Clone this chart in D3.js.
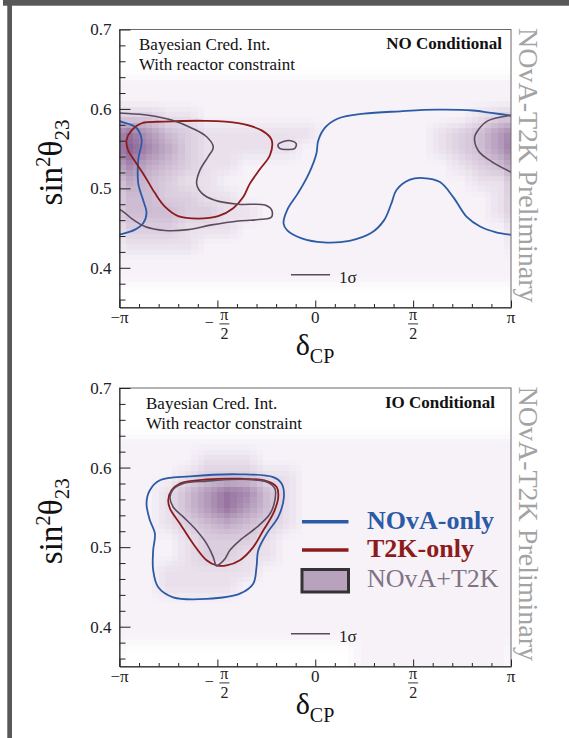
<!DOCTYPE html>
<html><head><meta charset="utf-8">
<script src="https://cdn.jsdelivr.net/npm/d3@7"></script>
<style>html,body{margin:0;padding:0;background:#fff;} svg{display:block}</style>
</head><body>
<svg id="chart" width="569" height="738"></svg>
<script>
// ---------------- DATA ----------------
// delta_CP stored in units of pi; sin^2(theta23) as is
const xTickValues = [-1, -0.5, 0, 0.5, 1];
const xTickLabels = ["−π", "−π/2", "0", "π/2", "π"];
const yTickValues = [0.4, 0.5, 0.6, 0.7];
const panelTitles = ["NO Conditional", "IO Conditional"];
const infoLines = ["Bayesian Cred. Int.", "With reactor constraint"];
const sigmaLabel = "1σ";
const legendLabels = ["NOvA-only", "T2K-only", "NOvA+T2K"];
const sideLabel = "NOvA-T2K Preliminary";

// density grids (NOvA+T2K posterior), rows centred at sin2 = 0.65 down to 0.37 (step 0.02),
// columns centred at delta/pi = -0.95 .. 0.95 (step 0.1); values 0 (none) .. 9 (max)
const densityNO = [
  "00000000000000000000",
  "11111111111111111111",
  "11111111111111111111",
  "33221111111111111123",
  "86432222221111112346",
  "97532222211111112346",
  "75432211111111111234",
  "54322111111111111122",
  "44332211111111111112",
  "44433221111111111112",
  "33322211111111111111",
  "22221111111111111111",
  "11111111111111111111",
  "11111111111111111111",
  "00000000000000000000"
];
const densityIO = [
  "00000000000000000000",
  "11111111111111111111",
  "11112221111111111111",
  "11123332211111111111",
  "11246874211111111111",
  "11246864211111111111",
  "11234543211111111111",
  "11123332111111111111",
  "11123322111111111111",
  "11222221111111111111",
  "11222211111111111111",
  "11111111111111111111",
  "11111111111111111111",
  "11111111111111111111",
  "00000000000011111111"
];

// NO conditional contours
const noNovaMain = [[1.02,0.591],[0.9,0.595],[0.806,0.598],[0.62,0.599],[0.434,0.597],[0.248,0.594],[0.117,0.588],[0.052,0.577],[0.015,0.56],[0.006,0.544],[-0.032,0.519],[-0.088,0.494],[-0.143,0.473],[-0.162,0.456],[-0.143,0.447],[-0.069,0.437],[0.043,0.432],[0.175,0.434],[0.287,0.444],[0.352,0.46],[0.389,0.481],[0.415,0.498],[0.484,0.511],[0.552,0.513],[0.637,0.508],[0.705,0.489],[0.774,0.464],[0.842,0.452],[0.92,0.445],[1.02,0.441]];
const noNovaWrap = [[-1.02,0.586],[-0.98,0.583],[-0.913,0.576],[-0.887,0.561],[-0.904,0.536],[-0.904,0.506],[-0.879,0.485],[-0.862,0.469],[-0.879,0.456],[-0.921,0.448],[-0.98,0.443],[-1.02,0.441]];
const noT2K = [[-0.964,0.561],[-0.938,0.573],[-0.887,0.582],[-0.768,0.584],[-0.564,0.585],[-0.393,0.582],[-0.274,0.573],[-0.223,0.561],[-0.231,0.542],[-0.283,0.524],[-0.334,0.506],[-0.368,0.489],[-0.419,0.475],[-0.496,0.465],[-0.598,0.462],[-0.700,0.465],[-0.768,0.477],[-0.819,0.494],[-0.870,0.515],[-0.921,0.534],[-0.956,0.548]];
const noComboMain = [[-1.02,0.595],[-0.98,0.5945],[-0.853,0.592],[-0.734,0.586],[-0.632,0.576],[-0.555,0.565],[-0.521,0.552],[-0.547,0.540],[-0.589,0.523],[-0.606,0.506],[-0.580,0.494],[-0.513,0.485],[-0.393,0.480],[-0.257,0.479],[-0.223,0.473],[-0.223,0.464],[-0.274,0.461],[-0.393,0.459],[-0.529,0.454],[-0.649,0.448],[-0.768,0.447],[-0.870,0.452],[-0.938,0.462],[-0.98,0.4705],[-1.02,0.476]];
const noComboIsland = [[-0.190,0.555],[-0.162,0.559],[-0.125,0.560],[-0.097,0.556],[-0.106,0.550],[-0.143,0.549],[-0.180,0.550]];
const noComboWrap = [[1.02,0.5925],[0.881,0.585],[0.834,0.574],[0.814,0.564],[0.834,0.547],[0.899,0.534],[1.02,0.518]];

// IO conditional contours
const ioNova = [[-0.862,0.555],[-0.845,0.5715],[-0.794,0.584],[-0.640,0.589],[-0.385,0.5915],[-0.215,0.588],[-0.172,0.580],[-0.160,0.563],[-0.189,0.538],[-0.248,0.517],[-0.291,0.496],[-0.300,0.475],[-0.317,0.454],[-0.385,0.4415],[-0.555,0.435],[-0.726,0.437],[-0.802,0.4495],[-0.828,0.471],[-0.828,0.496],[-0.819,0.517],[-0.845,0.534]];
const ioT2K = [[-0.751,0.559],[-0.734,0.5715],[-0.691,0.580],[-0.555,0.585],[-0.385,0.586],[-0.248,0.583],[-0.197,0.5755],[-0.189,0.563],[-0.215,0.542],[-0.266,0.521],[-0.317,0.500],[-0.385,0.4835],[-0.453,0.477],[-0.504,0.477],[-0.555,0.4835],[-0.623,0.504],[-0.691,0.5295],[-0.742,0.5485]];
const ioCombo = [[-0.742,0.563],[-0.726,0.5725],[-0.674,0.580],[-0.555,0.583],[-0.385,0.585],[-0.248,0.582],[-0.206,0.5735],[-0.206,0.559],[-0.231,0.542],[-0.299,0.525],[-0.385,0.5085],[-0.436,0.496],[-0.461,0.4855],[-0.487,0.479],[-0.506,0.4765],[-0.512,0.480],[-0.521,0.4875],[-0.555,0.5045],[-0.606,0.521],[-0.674,0.538],[-0.726,0.5505]];

// ---------------- DRAWING ----------------
const FONT = "'Liberation Serif','Times New Roman',Times,serif";
const BLUE = "#2b5ba6", RED = "#8e1b1b", COMBO = "#5c4b5e";
const svg = d3.select("#chart");
const X0 = 119.5, X1 = 511;

// outer page border
svg.append("rect").attr("x", 3).attr("y", 0).attr("width", 566).attr("height", 5.7).attr("fill", "#585858");
svg.append("rect").attr("x", 7.3).attr("y", 0).attr("width", 4.7).attr("height", 738).attr("fill", "#585858");

const defs = svg.append("defs");
const dens = d3.scaleLinear().domain([0, 1, 9]).range(["#ffffff", "#f6f2f8", "#8a6394"]).interpolate(d3.interpolateRgb).clamp(true);

// bilinear sampling of a density grid (periodic in delta)
function sample(grid, d, s) {
  const nr = grid.length, nc = grid[0].length;
  const fc = (d + 0.95) / 0.1;
  let fr = (0.65 - s) / 0.02;
  fr = Math.max(0, Math.min(nr - 1, fr));
  const c0 = Math.floor(fc), t = fc - c0;
  const r0 = Math.min(nr - 2, Math.floor(fr)), u = fr - r0;
  const g = (r, c) => +grid[r][((c % nc) + nc) % nc];
  return (1 - u) * ((1 - t) * g(r0, c0) + t * g(r0, c0 + 1)) + u * ((1 - t) * g(r0 + 1, c0) + t * g(r0 + 1, c0 + 1));
}

const panels = [
  { y0: 29.5, y1: 307.5, density: densityNO, title: panelTitles[0], infoX: 139, titleX: 502,
    contours: [
      { pts: noNovaMain, color: BLUE, closed: false },
      { pts: noNovaWrap, color: BLUE, closed: false },
      { pts: noT2K, color: RED, closed: true },
      { pts: noComboMain, color: COMBO, closed: false },
      { pts: noComboIsland, color: COMBO, closed: true },
      { pts: noComboWrap, color: COMBO, closed: false }
    ], legend: false },
  { y0: 388, y1: 666.5, density: densityIO, title: panelTitles[1], infoX: 146, titleX: 495,
    contours: [
      { pts: ioNova, color: BLUE, closed: true },
      { pts: ioT2K, color: RED, closed: true },
      { pts: ioCombo, color: COMBO, closed: true }
    ], legend: true }
];

panels.forEach((p, pi) => {
  const x = d3.scaleLinear().domain([-1, 1]).range([X0, X1]);
  const y = d3.scaleLinear().domain([0.35, 0.7]).range([p.y1, p.y0]);
  const g = svg.append("g");

  const clipId = "clip" + pi;
  defs.append("clipPath").attr("id", clipId).append("rect")
    .attr("x", X0).attr("y", p.y0).attr("width", X1 - X0).attr("height", p.y1 - p.y0);

  // density map rendered on a fine raster (bilinear between grid centres)
  const cells = [];
  const nx = 60, dd = 2 / nx, ds = 0.02 / 3;
  for (let i = 0; i < nx; i++) {
    for (let j = 0; j < 48; j++) {
      const s0 = 0.35 + j * ds;
      const d0 = -1 + i * dd;
      const v = sample(p.density, d0 + dd / 2, s0 + ds / 2);
      if (v > 0.08) cells.push({ d0, d1: d0 + dd, s0, s1: s0 + ds, v });
    }
  }
  const hm = g.append("g").attr("clip-path", `url(#${clipId})`);
  hm.selectAll("rect").data(cells).join("rect")
    .attr("x", d => x(d.d0)).attr("width", d => x(d.d1) - x(d.d0) + 0.5)
    .attr("y", d => y(d.s1)).attr("height", d => y(d.s0) - y(d.s1) + 0.5)
    .attr("fill", d => dens(d.v)).attr("shape-rendering", "crispEdges");

  // contours
  const lineOpen = d3.line().x(d => x(d[0])).y(d => y(d[1])).curve(d3.curveCatmullRom.alpha(0.5));
  const lineClosed = d3.line().x(d => x(d[0])).y(d => y(d[1])).curve(d3.curveCatmullRomClosed.alpha(0.5));
  const cg = g.append("g").attr("clip-path", `url(#${clipId})`);
  cg.selectAll("path").data(p.contours).join("path")
    .attr("d", d => (d.closed ? lineClosed : lineOpen)(d.pts))
    .attr("fill", "none").attr("stroke", d => d.color)
    .attr("stroke-width", d => d.color === COMBO ? 1.6 : 1.8);

  // frame
  g.append("rect").attr("x", X0).attr("y", p.y0).attr("width", X1 - X0).attr("height", p.y1 - p.y0)
    .attr("fill", "none").attr("stroke", "#6a6a6a").attr("stroke-width", 1);

  // y axis
  const yMinor = d3.range(0.36, 0.7, 0.02).filter(v => !yTickValues.some(t => Math.abs(t - v) < 1e-6));
  const ya = g.append("g").attr("transform", `translate(${X0},0)`)
    .call(d3.axisLeft(y).tickValues(yTickValues).tickSize(-11).tickSizeOuter(0).tickPadding(8).tickFormat(d3.format(".1f")));
  ya.attr("font-family", FONT).attr("font-size", 17).attr("color", "#222");
  const ym = g.append("g").attr("transform", `translate(${X0},0)`)
    .call(d3.axisLeft(y).tickValues(yMinor).tickSize(-6).tickSizeOuter(0).tickFormat(""));
  ym.attr("color", "#222"); ym.select(".domain").remove();

  // x axis
  const xMinor = d3.range(-0.9, 1, 0.1).filter(v => !xTickValues.some(t => Math.abs(t - v) < 1e-6));
  const xa = g.append("g").attr("transform", `translate(0,${p.y1})`)
    .call(d3.axisBottom(x).tickValues(xTickValues).tickSize(-7).tickSizeOuter(0).tickFormat(""));
  xa.attr("color", "#222");
  const xm = g.append("g").attr("transform", `translate(0,${p.y1})`)
    .call(d3.axisBottom(x).tickValues(xMinor).tickSize(-3.5).tickSizeOuter(0).tickFormat(""));
  xm.attr("color", "#222"); xm.select(".domain").remove();

  // x tick labels (with fractions)
  xTickValues.forEach((v, i) => {
    const lab = xTickLabels[i];
    const lg = g.append("g").attr("transform", `translate(${x(v)},${p.y1})`)
      .attr("font-family", FONT).attr("font-size", 16).attr("fill", "#222");
    if (lab.includes("/")) {
      let body = lab, dx = 0;
      if (lab.startsWith("−")) {
        body = lab.slice(1); dx = 7;
        lg.append("text").attr("x", -8).attr("y", 20).attr("text-anchor", "middle").text("−");
      }
      const [num, den] = body.split("/");
      lg.append("text").attr("x", dx).attr("y", 12.8).attr("text-anchor", "middle").text(num);
      lg.append("line").attr("x1", dx - 5).attr("x2", dx + 5).attr("y1", 16.4).attr("y2", 16.4)
        .attr("stroke", "#222").attr("stroke-width", 0.9);
      lg.append("text").attr("x", dx).attr("y", 31).attr("text-anchor", "middle").text(den);
    } else {
      lg.append("text").attr("x", 0).attr("y", 15.5).attr("text-anchor", "middle").attr("font-size", 17).text(lab);
    }
  });

  // axis titles
  const xt = g.append("text").attr("x", 315).attr("y", p.y1 + 47.5).attr("text-anchor", "middle")
    .attr("font-family", FONT).attr("font-size", 30).attr("fill", "#111");
  xt.append("tspan").text("δ");
  xt.append("tspan").attr("dy", 8).attr("font-size", 20).text("CP");

  const yc = (p.y0 + p.y1) / 2 - 6;
  const yt = g.append("text").attr("transform", `translate(62,${yc}) rotate(-90)`).attr("text-anchor", "middle")
    .attr("font-family", FONT).attr("font-size", 33).attr("fill", "#111");
  yt.append("tspan").text("sin");
  yt.append("tspan").attr("dy", -12).attr("font-size", 21).text("2");
  yt.append("tspan").attr("dy", 12).text("θ");
  yt.append("tspan").attr("dy", 7).attr("font-size", 21).text("23");

  // info texts
  infoLines.forEach((t, i) => {
    g.append("text").attr("x", p.infoX).attr("y", p.y0 + 20.5 + 20 * i)
      .attr("font-family", FONT).attr("font-size", 17).attr("fill", "#111").text(t);
  });
  g.append("text").attr("x", p.titleX).attr("y", p.y0 + 19.5).attr("text-anchor", "end")
    .attr("font-family", FONT).attr("font-size", 17).attr("font-weight", "bold").attr("fill", "#111").text(p.title);

  // 1 sigma key
  g.append("line").attr("x1", 291).attr("x2", 330).attr("y1", p.y1 - 32.7).attr("y2", p.y1 - 32.7)
    .attr("stroke", COMBO).attr("stroke-width", 1.5);
  g.append("text").attr("x", 339).attr("y", p.y1 - 24.5)
    .attr("font-family", FONT).attr("font-size", 17).attr("fill", "#222").text(sigmaLabel);

  // side label
  g.append("text").attr("transform", `translate(519,${p.y0 - 1.5}) rotate(90)`)
    .attr("font-family", FONT).attr("font-size", 28).attr("fill", "#a3a3a3").text(sideLabel);

  // legend
  if (p.legend) {
    const lx = 302, lw = 46.5, tx = 367;
    g.append("line").attr("x1", lx).attr("x2", lx + lw).attr("y1", 521.7).attr("y2", 521.7)
      .attr("stroke", BLUE).attr("stroke-width", 3.6);
    g.append("text").attr("x", tx).attr("y", 528.5).attr("font-family", FONT).attr("font-size", 26)
      .attr("font-weight", "bold").attr("fill", BLUE).text(legendLabels[0]);
    g.append("line").attr("x1", lx).attr("x2", lx + lw).attr("y1", 550).attr("y2", 550)
      .attr("stroke", RED).attr("stroke-width", 3.6);
    g.append("text").attr("x", tx).attr("y", 557).attr("font-family", FONT).attr("font-size", 26)
      .attr("font-weight", "bold").attr("fill", RED).text(legendLabels[1]);
    g.append("rect").attr("x", lx).attr("y", 569.5).attr("width", lw).attr("height", 22.5)
      .attr("fill", "#b9a2be").attr("stroke", "#333").attr("stroke-width", 3);
    g.append("text").attr("x", tx).attr("y", 587).attr("font-family", FONT).attr("font-size", 26)
      .attr("fill", "#807384").text(legendLabels[2]);
  }
});
</script></body></html>
